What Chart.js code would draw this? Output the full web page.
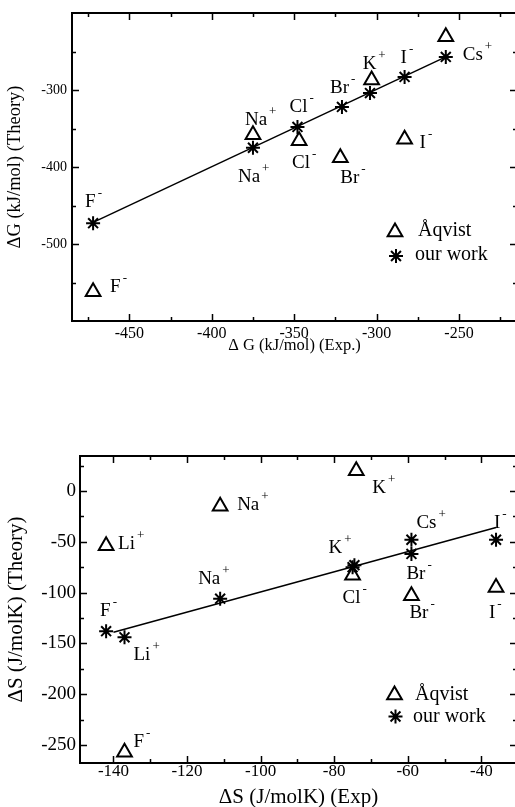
<!DOCTYPE html>
<html><head><meta charset="utf-8">
<script src="https://cdn.jsdelivr.net/npm/chart.js@4.4.1/dist/chart.umd.min.js"></script>
<style>
html,body{margin:0;padding:0;background:#fff;width:515px;height:807px;overflow:hidden;position:relative}
canvas{position:absolute;left:0}
#c1{top:0}
#c2{top:440px}
</style></head><body>
<canvas id="c1" width="517" height="360"></canvas>
<canvas id="c2" width="517" height="370"></canvas>
<script>
// ---------------- Top panel: ΔG (kJ/mol) ----------------
const gIonsOurs     = ['F','Na','Cl','Br','K','I','Cs'];
const gChargeOurs   = ['-','+','-','-','+','-','+'];
const gExpOurs      = [-472,-375,-348,-321,-304,-283,-258];
const gTheoryOurs   = [-473,-375,-348,-322,-304,-283,-257];

const gIonsAqvist   = ['F','Na','Cl','Br','K','I','Cs'];
const gChargeAqvist = ['-','+','-','-','+','-','+'];
const gExpAqvist    = [-472,-375,-347,-322,-303,-283,-258];
const gTheoryAqvist = [-562,-358,-366,-388,-287,-364,-231];

const gLineExp      = [-472,-258];
const gLineTheory   = [-472,-257];

const gXTicks = [-450,-400,-350,-300,-250];
const gXMinor = [-475,-425,-375,-325,-275,-225];
const gYTicks = [-500,-400,-300];
const gYMinor = [-550,-450,-350,-250];

// ---------------- Bottom panel: ΔS (J/molK) ----------------
const sIonsOurs     = ['F','Li','Na','K','Cl','Cs','Br','I'];
const sChargeOurs   = ['-','+','+','+','-','+','-','-'];
const sExpOurs      = [-142,-137,-111,-74.5,-75,-59,-59,-36];
const sTheoryOurs   = [-138,-144,-106,-73,-75,-48,-62,-48];

const sIonsAqvist   = ['K','Na','Li','Cl','Br','I','F'];
const sChargeAqvist = ['+','+','+','-','-','-','-'];
const sExpAqvist    = [-74,-111,-142,-75,-59,-36,-137];
const sTheoryAqvist = [20,-15,-54,-83,-103,-95,-257];

const sLineExp      = [-140,-36];
const sLineTheory   = [-139,-36];

const sXTicks = [-140,-120,-100,-80,-60,-40];
const sXMinor = [-130,-110,-90,-70,-50];
const sYTicks = [-250,-200,-150,-100,-50,0];
const sYMinor = [-225,-175,-125,-75,-25,25];

// ---------------- label placement (pixel offsets: text start, baseline) ----------------
const gOursLblPos   = [[-8,-16],[-15,34],[-8,-15],[-12,-14],null,[-4,-14],[17,3]];
const gAqvistLblPos = [[17,0],[-8,-10],[-7,27],[0,25],[-9,-11],[15,9],null];
const sOursLblPos   = [[-6,-15],[9,23],[-22,-15],[-26,-12],null,[5,-12],[-5,25],[-2,-12]];
const sAqvistLblPos = [[16,22],[17,4],[12,3],[-10,28],[-2,22],[-7,31],[9,-5]];

const FONT = '"Liberation Serif","Times New Roman",serif';

function pts(xs, ys){ return xs.map((v,i)=>({x:v, y:ys[i]})); }

function drawMarker(ctx, style, r, x, y){
  ctx.beginPath();
  if(style==='triangle'){
    let rad=0;
    ctx.moveTo(x+Math.sin(rad)*r, y-Math.cos(rad)*r);
    rad+=2*Math.PI/3; ctx.lineTo(x+Math.sin(rad)*r, y-Math.cos(rad)*r);
    rad+=2*Math.PI/3; ctx.lineTo(x+Math.sin(rad)*r, y-Math.cos(rad)*r);
    ctx.closePath();
  } else {
    for(const rad of [0, Math.PI/4]){
      const xo=Math.cos(rad)*r, yo=Math.sin(rad)*r;
      ctx.moveTo(x-xo,y-yo); ctx.lineTo(x+xo,y+yo);
      ctx.moveTo(x+yo,y-xo); ctx.lineTo(x-yo,y+xo);
    }
  }
  ctx.stroke();
}

const frameTicks = {
  id:'frameTicks',
  afterDraw(chart, args, o){
    const {ctx, chartArea:a} = chart;
    const xs=chart.scales.x, ys=chart.scales.y;
    ctx.save();
    ctx.strokeStyle='#000';
    ctx.lineWidth=1.5;
    ctx.beginPath();
    const vt=(vals,len)=>vals.forEach(v=>{
      const p=Math.round(xs.getPixelForValue(v))+0.5;
      ctx.moveTo(p,a.bottom); ctx.lineTo(p,a.bottom-len);
      ctx.moveTo(p,a.top); ctx.lineTo(p,a.top+len);
    });
    const ht=(vals,len)=>vals.forEach(v=>{
      const p=Math.round(ys.getPixelForValue(v))+0.5;
      ctx.moveTo(a.left,p); ctx.lineTo(a.left+len,p);
      ctx.moveTo(a.right,p); ctx.lineTo(a.right-len,p);
    });
    vt(o.xMajor,7); vt(o.xMinor,4); ht(o.yMajor,7); ht(o.yMinor,4);
    ctx.stroke();
    ctx.lineWidth=2;
    ctx.strokeRect(a.left, a.top, a.right-a.left, a.bottom-a.top);
    // legend
    const L=o.legend;
    const bx=a.right+L.dx, by=a.top+L.dy;
    ctx.lineWidth=2;
    drawMarker(ctx,'triangle',8.5,bx,by);
    drawMarker(ctx,'star',7,bx+1,by+L.gap);
    ctx.fillStyle='#000';
    ctx.font=L.size+'px '+FONT;
    ctx.textAlign='left'; ctx.textBaseline='alphabetic';
    ctx.fillText('Åqvist', bx+L.t1, by+L.b);
    ctx.fillText('our work', bx+L.t2, by+L.gap+L.b);
    ctx.restore();
  }
};

const ionLabels = {
  id:'ionLabels',
  afterDatasetsDraw(chart){
    const ctx=chart.ctx, xs=chart.scales.x, ys=chart.scales.y;
    ctx.save();
    ctx.fillStyle='#000'; ctx.textAlign='left'; ctx.textBaseline='alphabetic';
    chart.data.datasets.forEach(ds=>{
      if(!ds.ionText) return;
      ds.data.forEach((p,i)=>{
        const pos=ds.ionPos[i]; if(!pos) return;
        const px=xs.getPixelForValue(p.x)+pos[0], py=ys.getPixelForValue(p.y)+pos[1];
        ctx.font='19px '+FONT;
        ctx.fillText(ds.ionText[i], px, py);
        const w=ctx.measureText(ds.ionText[i]).width;
        ctx.font='13px '+FONT;
        ctx.fillText(ds.ionCharge[i], px+w+2, py-10);
      });
    });
    ctx.restore();
  }
};

function makeChart(id, c){
  return new Chart(document.getElementById(id), {
    type:'scatter',
    data:{datasets:[
      {data:pts(c.lineX,c.lineY), showLine:true, borderColor:'#000', borderWidth:1.5, pointRadius:0, pointHoverRadius:0, fill:false},
      {data:pts(c.aqX,c.aqY), pointStyle:'triangle', pointRadius:8.5, pointBorderWidth:2, borderColor:'#000', backgroundColor:'rgba(0,0,0,0)', pointBackgroundColor:'rgba(0,0,0,0)', pointBorderColor:'#000', showLine:false,
       ionText:c.aqIons, ionCharge:c.aqCharge, ionPos:c.aqPos},
      {data:pts(c.ourX,c.ourY), pointStyle:'star', pointRadius:7, pointBorderWidth:2, borderColor:'#000', pointBorderColor:'#000', backgroundColor:'#000', showLine:false,
       ionText:c.ourIons, ionCharge:c.ourCharge, ionPos:c.ourPos}
    ]},
    options:{
      responsive:false, animation:false, events:[],
      layout:{autoPadding:false, padding:{top:c.padTop, left:0, right:0, bottom:0}},
      plugins:{legend:{display:false}, tooltip:{enabled:false},
        frameTicks:{xMajor:c.xTicks, xMinor:c.xMinor, yMajor:c.yTicks, yMinor:c.yMinor, legend:c.legend}},
      scales:{
        x:{type:'linear', min:c.xMin, max:c.xMax,
          afterBuildTicks:s=>{s.ticks=c.xTicks.map(v=>({value:v}));},
          afterFit:s=>{s.height=c.xH; s.paddingLeft=0; s.paddingRight=0;},
          grid:{display:false, drawTicks:false}, border:{display:false},
          ticks:{color:'#000', font:{family:FONT, size:c.xTickSize}, padding:c.xTickPad, maxRotation:0, autoSkip:false},
          title:{display:true, text:c.xTitle, color:'#000', font:{family:FONT, size:c.xTitleSize}, padding:{top:0,bottom:c.xTitlePad}}},
        y:{type:'linear', min:c.yMin, max:c.yMax,
          afterBuildTicks:s=>{s.ticks=c.yTicks.map(v=>({value:v}));},
          afterFit:s=>{s.width=c.yW; s.paddingTop=0; s.paddingBottom=0;},
          grid:{display:false, drawTicks:false}, border:{display:false},
          ticks:{color:'#000', font:{family:FONT, size:c.yTickSize}, padding:c.yTickPad, autoSkip:false},
          title:{display:true, text:c.yTitle, color:'#000', font:{family:FONT, size:c.yTitleSize}, padding:{top:c.yTitlePad,bottom:0}}}
      }
    },
    plugins:[frameTicks, ionLabels]
  });
}

makeChart('c1', {
  lineX:gLineExp, lineY:gLineTheory,
  aqX:gExpAqvist, aqY:gTheoryAqvist, aqIons:gIonsAqvist, aqCharge:gChargeAqvist, aqPos:gAqvistLblPos,
  ourX:gExpOurs, ourY:gTheoryOurs, ourIons:gIonsOurs, ourCharge:gChargeOurs, ourPos:gOursLblPos,
  xMin:-484.8, xMax:-214.8, yMin:-600, yMax:-200,
  xTicks:gXTicks, xMinor:gXMinor, yTicks:gYTicks, yMinor:gYMinor,
  padTop:13, xH:39, yW:72,
  xTickSize:16, xTickPad:3, yTickSize:14, yTickPad:5,
  xTitle:'Δ G (kJ/mol) (Exp.)', xTitleSize:16.5, xTitlePad:4,
  yTitle:'ΔG (kJ/mol) (Theory)', yTitleSize:18.5, yTitlePad:4,
  legend:{dx:-122, dy:219, gap:24, t1:23, t2:20, b:4, size:20}
});

makeChart('c2', {
  lineX:sLineExp, lineY:sLineTheory,
  aqX:sExpAqvist, aqY:sTheoryAqvist, aqIons:sIonsAqvist, aqCharge:sChargeAqvist, aqPos:sAqvistLblPos,
  ourX:sExpOurs, ourY:sTheoryOurs, ourIons:sIonsOurs, ourCharge:sChargeOurs, ourPos:sOursLblPos,
  xMin:-149.1, xMax:-30.3, yMin:-267.7, yMax:34.4,
  xTicks:sXTicks, xMinor:sXMinor, yTicks:sYTicks, yMinor:sYMinor,
  padTop:16, xH:47, yW:80,
  xTickSize:17, xTickPad:-2, yTickSize:19, yTickPad:4,
  xTitle:'ΔS (J/molK) (Exp)', xTitleSize:21, xTitlePad:0,
  yTitle:'ΔS (J/molK) (Theory)', yTitleSize:21, yTitlePad:4,
  legend:{dx:-122.5, dy:239, gap:21.5, t1:20.5, t2:18.5, b:5, size:20}
});
</script>
</body></html>
